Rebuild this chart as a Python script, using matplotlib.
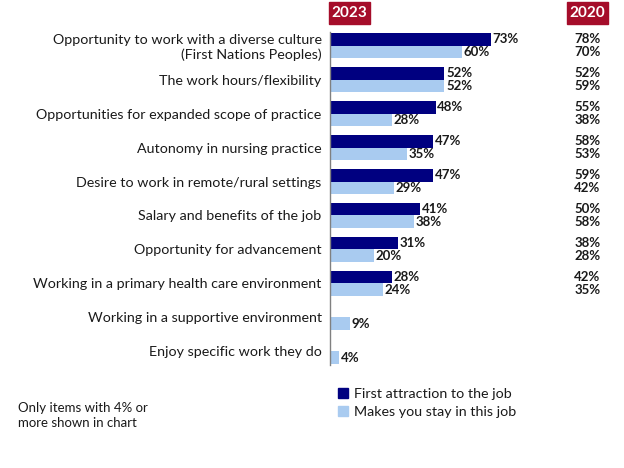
import matplotlib
matplotlib.use("Agg")
import matplotlib.pyplot as plt
import numpy as np
from matplotlib.patches import Patch

plt.rcParams["font.family"] = ["Lato", "DejaVu Sans"]

categories = [
    "Opportunity to work with a diverse culture\n(First Nations Peoples)",
    "The work hours/flexibility",
    "Opportunities for expanded scope of practice",
    "Autonomy in nursing practice",
    "Desire to work in remote/rural settings",
    "Salary and benefits of the job",
    "Opportunity for advancement",
    "Working in a primary health care environment",
    "Working in a supportive environment",
    "Enjoy specific work they do",
]
attract_2023 = [73, 52, 48, 47, 47, 41, 31, 28, None, None]
stay_2023 = [60, 52, 28, 35, 29, 38, 20, 24, 9, 4]
attract_2020 = [78, 52, 55, 58, 59, 50, 38, 42, None, None]
stay_2020 = [70, 59, 38, 53, 42, 58, 28, 35, None, None]

DARK = "#000080"
LIGHT = "#A9CBF0"
RED = "#A50D2A"
TEXT = "#1a1a1a"

fig = plt.figure(figsize=(6.24, 4.68), dpi=100)
ax = fig.add_axes([330 / 624, 1 - 365 / 468, 220 / 624, 333 / 468])

y = np.arange(len(categories))
h = 0.36
vfs = 9.5  # value label size
for i in range(len(categories)):
    if attract_2023[i] is not None:
        ax.barh(y[i] - h / 2, attract_2023[i], height=h, color=DARK)
        ax.text(attract_2023[i] + 0.8, y[i] - h / 2, f"{attract_2023[i]}%",
                va="center", ha="left", fontsize=vfs, fontweight="bold", color=TEXT)
    ax.barh(y[i] + h / 2, stay_2023[i], height=h, color=LIGHT)
    ax.text(stay_2023[i] + 0.8, y[i] + h / 2, f"{stay_2023[i]}%",
            va="center", ha="left", fontsize=vfs, fontweight="bold", color=TEXT)
    if attract_2020[i] is not None:
        ax.text(117, y[i] - h / 2, f"{attract_2020[i]}%", va="center", ha="center",
                fontsize=vfs, fontweight="bold", color=TEXT, clip_on=False)
        ax.text(117, y[i] + h / 2, f"{stay_2020[i]}%", va="center", ha="center",
                fontsize=vfs, fontweight="bold", color=TEXT, clip_on=False)

ax.set_xlim(0, 100)
ax.set_ylim(9.4, -0.4)
ax.set_yticks(y)
ax.set_yticklabels(categories, fontsize=10.3, color=TEXT, linespacing=1.2)
ax.tick_params(axis="y", length=0, pad=6)
ax.set_xticks([])
for s in ["top", "right", "bottom"]:
    ax.spines[s].set_visible(False)
ax.spines["left"].set_color("#808080")
ax.spines["left"].set_linewidth(1)
ax.yaxis.get_ticklabels()[0].set_multialignment("right")

# year badges
for x0, x1, label in [(329, 370, "2023"), (567, 608, "2020")]:
    fig.patches.append(plt.Rectangle((x0 / 624, 1 - 24 / 468), (x1 - x0) / 624, 22 / 468,
                                     transform=fig.transFigure, color=RED))
    fig.text((x0 + x1) / 2 / 624, 1 - 13 / 468, label, ha="center", va="center",
             color="white", fontsize=11, fontweight="bold")

leg = fig.legend(handles=[Patch(color=DARK, label="First attraction to the job"),
                          Patch(color=LIGHT, label="Makes you stay in this job")],
                 loc="upper left", bbox_to_anchor=(325 / 624, 1 - 375 / 468),
                 frameon=False, fontsize=10.3, handlelength=0.7, handleheight=0.7,
                 handletextpad=0.4, labelspacing=0.45, labelcolor=TEXT)

fig.text(18 / 624, 1 - 402 / 468, "Only items with 4% or\nmore shown in chart",
         ha="left", va="top", fontsize=9.5, color=TEXT, linespacing=1.3)

fig.savefig("out.png", dpi=100)
